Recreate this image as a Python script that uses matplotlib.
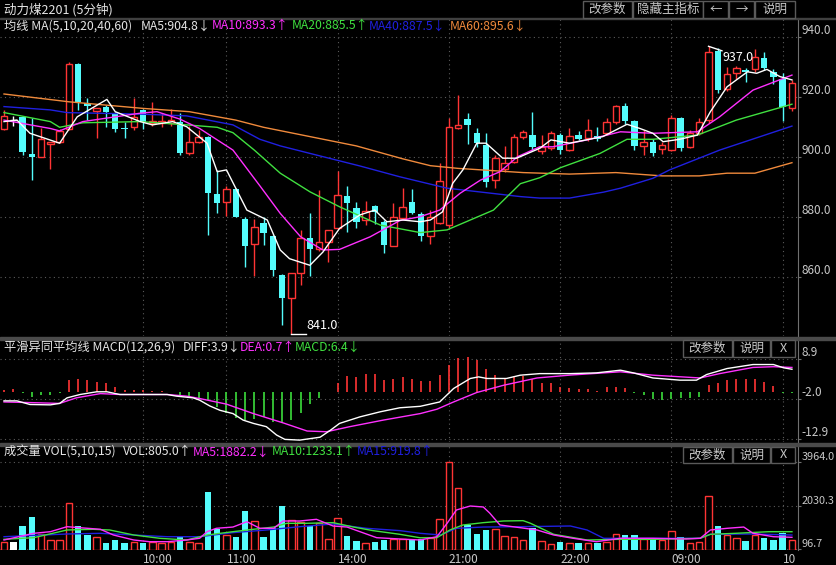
import numpy as np
import matplotlib.pyplot as plt
from matplotlib.patches import Rectangle

plt.rcParams['font.family'] = ['Noto Sans CJK SC', 'DejaVu Sans']

# ---- 5-minute candles (index 0..85) ----
opens = [909.4, 912.4, 913.4, 901.1, 900.1, 904.4, 905.1, 909.4, 931.1, 918.1,
         915.4, 916.8, 914.8, 909.6, 910.1, 915.8, 911.4, 911.3, 911.4, 911.8,
         901.3, 905.2, 906.7, 887.8, 885.1, 889.4, 879.4, 871.1, 878.1, 873.8,
         860.8, 853.0, 861.5, 873.0, 869.4, 871.8, 876.3, 887.1, 883.0, 879.1,
         883.6, 878.4, 870.3, 879.7, 885.2, 881.0, 873.8, 878.0, 877.3, 909.9,
         912.9, 908.0, 904.0, 892.4, 896.0, 898.5, 906.9, 907.4, 902.0, 903.0,
         907.4, 902.4, 907.4, 906.3, 907.1, 908.2, 911.9, 917.1, 912.1, 903.8,
         905.2, 902.6, 902.4, 913.0, 903.4, 908.2, 912.4, 935.5, 922.7, 928.2,
         929.2, 929.3, 933.1, 928.5, 926.0, 916.3]
highs = [915.8, 913.8, 913.8, 913.1, 909.8, 905.1, 909.4, 931.8, 931.4, 919.8,
         916.4, 917.4, 915.0, 911.8, 919.8, 916.0, 918.4, 914.9, 916.0, 914.8,
         910.4, 909.1, 907.0, 895.8, 890.4, 889.8, 880.0, 879.4, 880.1, 874.1,
         861.0, 861.5, 875.8, 881.4, 889.1, 875.8, 895.4, 890.4, 885.0, 885.4,
         884.0, 879.0, 884.8, 889.7, 889.4, 881.8, 882.5, 898.0, 913.0, 920.8,
         914.9, 909.8, 908.2, 900.8, 903.7, 907.8, 909.0, 915.2, 907.5, 908.9,
         908.0, 909.6, 908.7, 912.8, 910.1, 913.1, 917.5, 918.0, 912.5, 909.1,
         906.0, 905.0, 914.0, 913.5, 909.0, 913.0, 937.0, 936.5, 930.0, 930.5,
         929.8, 936.1, 935.0, 929.5, 928.1, 925.9]
lows = [909.1, 910.4, 900.8, 892.4, 900.0, 896.1, 904.8, 909.0, 915.8, 912.4,
        906.4, 910.1, 908.4, 906.4, 909.1, 909.4, 910.4, 910.2, 910.4, 900.8,
        900.8, 904.8, 874.1, 881.4, 880.4, 880.0, 863.4, 860.4, 870.8, 860.4,
        844.1, 841.0, 857.4, 860.4, 868.6, 865.0, 876.0, 875.2, 876.3, 877.4,
        877.7, 868.1, 870.3, 879.5, 881.0, 872.0, 871.0, 877.9, 876.5, 909.5,
        904.4, 903.5, 890.2, 889.7, 895.0, 898.0, 906.0, 902.4, 901.0, 902.5,
        901.1, 902.0, 905.8, 905.5, 905.5, 907.5, 911.0, 911.0, 902.4, 900.9,
        900.5, 901.0, 902.0, 902.0, 903.0, 907.5, 911.5, 921.5, 922.0, 926.0,
        925.0, 928.5, 929.0, 924.5, 912.0, 915.5]
closes = [913.8, 912.4, 901.8, 900.1, 906.1, 905.1, 908.8, 931.1, 918.4, 917.1,
          916.4, 915.1, 909.4, 909.4, 913.4, 911.8, 912.0, 912.1, 912.4, 901.5,
          905.0, 906.7, 888.1, 884.8, 889.4, 880.1, 870.4, 876.8, 874.8, 862.4,
          853.1, 861.3, 873.0, 869.4, 871.8, 875.8, 887.4, 884.9, 878.5, 882.1,
          881.8, 870.9, 880.2, 883.3, 881.3, 873.8, 880.0, 892.1, 910.2, 910.6,
          910.6, 904.7, 891.9, 899.6, 898.2, 906.7, 908.3, 903.5, 903.5, 908.1,
          902.4, 907.2, 906.1, 909.1, 906.0, 911.9, 917.1, 912.1, 903.8, 905.2,
          901.3, 904.1, 913.0, 903.0, 908.2, 911.9, 935.2, 922.4, 927.7, 929.7,
          928.5, 933.4, 929.7, 926.7, 916.9, 924.9]
volumes = [426, 426, 1126, 1514, 756, 502, 502, 2137, 1126, 725,
           649, 355, 502, 355, 426, 355, 426, 390, 426, 622,
           426, 390, 2627, 979, 725, 622, 1794, 1349, 622, 1023,
           2017, 1393, 1318, 1126, 1246, 533, 1469, 680, 458, 355,
           426, 502, 533, 533, 502, 547, 605, 1438, 3964, 2806,
           1170, 770, 948, 992, 694, 649, 502, 1023, 458, 310,
           426, 355, 355, 390, 355, 426, 756, 725, 725, 533,
           533, 502, 903, 649, 355, 410, 2463, 1126, 725, 578,
           458, 725, 578, 502, 805, 502]
macd_bar = [0.62, 0.9, -0.3, -1.4, -0.94, -0.75, -0.2, 3.19, 3.38, 3.19,
            2.73, 2.46, 1.36, 0.62, 0.44, 0.44, 0.17, 0.17, 0.05, -0.94,
            -1.21, -1.58, -2.31, -4.15, -5.71, -7.18, -7.82, -7.36, -6.9, -8.28,
            -8.55, -7.82, -5.71, -3.23, -1.67, 0.05, 2.55, 4.39, 4.11, 4.84,
            4.84, 3.19, 3.65, 4.11, 3.65, 2.92, 2.92, 4.57, 7.5, 9.16,
            9.62, 8.7, 6.22, 4.57, 3.83, 4.11, 4.39, 3.38, 2.55, 2.28,
            1.36, 1.08, 0.9, 0.72, 0.26, 1.36, 1.36, 1.08, -0.3, -0.94,
            -2.04, -2.31, -1.85, -1.67, -1.67, -1.4, 2.0, 2.28, 3.19, 3.65,
            3.38, 3.38, 2.73, 1.64, -0.3, -0.2]

# ---- moving-average lines, sampled along the drawn curves (bar index, value) ----
ma5_x = [0, 1.4, 2.8, 6, 7.9, 11.1, 12, 14.7, 16, 18.2, 19.7, 21.9, 23, 24, 26.2, 28.4,
         29.8, 30.8, 33, 34.4, 36.2, 38.4, 40, 41.3, 43, 44.9, 46, 47.3, 48.4, 49.5, 51,
         52, 53.8, 55.3, 57.8, 59, 61, 64.6, 67.2, 68.6, 70, 71.1, 72.9, 74.8, 76.2, 78,
         80.2, 81.2, 82.3, 83.7, 85]
ma5_y = [911.9, 912.4, 908, 904.7, 913.5, 919.3, 915.2, 911.9, 910.8, 911.9, 910.2, 904.7,
         895.2, 895.8, 882.4, 879.1, 869.1, 866.2, 864, 868.4, 876.3, 880.8, 882.4, 878.5,
         879.1, 878.5, 879.1, 881.8, 891.3, 895.8, 904.7, 904.7, 899.7, 899.7, 903, 905.8,
         904.7, 906.9, 911, 909.6, 908, 905.2, 906, 907.4, 915.2, 923.5, 928.5, 928, 929.3,
         926.9, 925.8]
ma10_x = [0, 5, 6, 8.5, 14.7, 16.5, 19, 21.1, 24.7, 27.6, 29.8, 32, 34.4, 36.2, 39.5, 42.7,
          44.9, 47, 49.2, 51.4, 53.5, 55.4, 57.8, 59.2, 62.9, 66.5, 70, 74.8, 77.2, 80.8, 85]
ma10_y = [912.4, 909.6, 908.8, 911.9, 914.7, 915.2, 912.7, 909.6, 902.4, 890.5, 881.3,
          873.5, 869.1, 869.3, 873.5, 878.9, 880.2, 882.4, 888, 892.4, 895.2, 900.2, 903.5,
          903.5, 905.8, 908.5, 908, 908.5, 913.5, 922.4, 927.4]
ma20_x = [0, 5, 6, 8.5, 14.7, 19.7, 23, 24.7, 27, 29.8, 33, 36.2, 40.6, 44.9, 47.8, 52.8,
          55.7, 57.8, 60, 64.3, 67.2, 70, 74.8, 79, 85]
ma20_y = [914.9, 911.9, 910, 911.5, 911.9, 910.8, 910, 908.2, 902.4, 894.7, 888.5, 883.5,
          877.4, 874.9, 875.8, 882.4, 891.2, 893.2, 896.5, 901.3, 906, 906, 907.4, 912.4,
          917.7]
ma40_x = [0, 5, 6.8, 14.7, 19.7, 24.7, 27.6, 29.8, 33, 38.4, 42.7, 47.8, 55.7, 57.8, 61,
          64.7, 66.5, 70, 71.8, 77.2, 85]
ma40_y = [916.9, 915.8, 914.9, 914.4, 913.8, 910.8, 906, 903.8, 901.3, 897.1, 893.5,
          889.7, 886.9, 886.4, 886.4, 888.4, 889.7, 893, 895.8, 902.4, 910.4]
ma60_x = [0, 7, 15, 20, 25, 28, 33, 38, 43, 46, 49, 56, 61, 66, 71, 75, 78, 81, 85]
ma60_y = [921.1, 918.5, 916.3, 915.2, 912.4, 910.0, 906.9, 903.8, 899.5, 897.2, 896.3,
          894.9, 894.4, 894.9, 893.8, 893.8, 894.7, 894.7, 898.2]

# ---- MACD lines ----
diff_x = [0, 1.4, 2.8, 5, 6, 6.8, 8.2, 10, 11.1, 12.5, 14.7, 17.6, 18.6, 20.4, 21.1, 22.2,
          23.3, 24.7, 25.8, 26.9, 28.3, 29.4, 30.3, 31.9, 34.1, 35.2, 36.2, 38.4, 40.6,
          42.7, 44.9, 47, 48.5, 50.3, 51.2, 52.1, 54.2, 55.7, 57.8, 61.1, 63.9, 66.5, 67.9,
          70, 72.9, 74.7, 75.8, 78, 80.8, 83, 84.1, 85]
diff_y = [-2.5, -2.5, -3.5, -3.6, -3.2, -1.67, -0.75, 0, 0, -0.75, -0.75, -0.75, -1.2,
          -1.67, -2.3, -3.9, -5.1, -6, -7.8, -8.7, -9.6, -11.9, -13.1, -13.3, -12.5, -10.6,
          -8.7, -6.9, -5.5, -4.4, -4.0, -2.8, 0.9, 3.66, 4.1, 3.66, 3.66, 4.57, 5.0, 5.0,
          5.2, 5.94, 5.2, 3.8, 3.2, 3.2, 4.75, 6.4, 7.5, 7.5, 6.6, 6.2]
dea_x = [0, 3.2, 6, 7.8, 10.4, 12.5, 17.6, 19.7, 21.1, 24, 26.9, 30.1, 32.7, 34.8, 37.3,
         40.9, 44.9, 46.7, 48.5, 51, 53.9, 57.5, 61.1, 66.5, 70, 75.1, 77.2, 80.8, 83, 85]
dea_y = [-2.8, -3.0, -3.2, -1.67, -0.5, -0.75, -0.75, -1.2, -1.85, -3.4, -6, -8.55, -10.8,
         -11, -9.6, -7.8, -6, -4.8, -2.8, -0.2, 1.8, 3.8, 4.6, 5.5, 4.57, 3.8, 5.0, 6.7, 6.9,
         6.7]

# ---- volume moving averages ----
vma5_x = [0, 3.2, 5, 6.8, 8.2, 10.4, 11.8, 14, 15.7, 17.6, 19.7, 21.1, 21.9, 22.9, 24.7,
          26.2, 27.6, 29.1, 30.1, 31.9, 33.7, 35.5, 37, 38.4, 40.2, 42.7, 44.9, 46.7, 47.8,
          48.8, 50.3, 51.7, 52.4, 53.5, 55.7, 57.5, 59.3, 61.4, 63.9, 66.5, 70, 73.6, 75.1,
          76.2, 78, 79.8, 80.8, 83, 85]
vma5_y = [502, 800, 872, 1095, 1050, 979, 725, 502, 426, 426, 502, 578, 872, 1023, 1080,
          1318, 1023, 1023, 1349, 1349, 1424, 1126, 1080, 872, 605, 547, 502, 649, 1246,
          1839, 2017, 1973, 1700, 1170, 1050, 948, 725, 578, 426, 578, 578, 547, 578, 948,
          1023, 1080, 800, 649, 622]
vma10_x = [0, 3.2, 6.8, 9.6, 11.4, 14, 16.8, 19.7, 21.9, 24.7, 26.9, 29.1, 30.5, 32.6,
           35.5, 37.7, 39.8, 42.7, 44.9, 46.7, 48.1, 49.5, 51.7, 53.9, 56, 56.8, 59.3, 62.9,
           66.5, 70, 75.1, 76.2, 78.9, 82.5, 85]
vma10_y = [533, 605, 948, 979, 948, 725, 578, 502, 725, 872, 979, 1080, 1246, 1246, 1275,
           1080, 920, 756, 600, 605, 948, 1170, 1275, 1349, 1364, 1246, 756, 502, 533, 533,
           578, 756, 800, 872, 872]
vma15_x = [0, 6.8, 10.4, 14, 17.6, 21.1, 24.7, 28.3, 31.9, 35.5, 39.1, 42.7, 44.9, 47.1,
           48.8, 51.7, 55.7, 61.1, 62.9, 64.7, 70, 75.1, 76.2, 80.8, 85]
vma15_y = [649, 770, 800, 725, 649, 649, 830, 948, 1095, 1216, 1023, 920, 800, 725, 1023,
           1080, 1095, 1126, 948, 578, 578, 578, 756, 770, 725]

time_idx = [15, 24, 36, 48, 60, 72, 84]
time_labels = ['10:00', '11:00', '14:00', '21:00', '22:00', '09:00', '10']

RED = '#ff3434'
CYAN = '#54fcfc'
GREEN_BAR = '#3cdc3c'
MAGENTA = '#ff30ff'
GREEN = '#40e040'
BLUE = '#2020e0'
ORANGE = '#f08a3c'
TXT = '#c8c8c8'
GRID = '#5a5a5a'

W, H = 836, 565
fig = plt.figure(figsize=(W / 100, H / 100), dpi=100, facecolor='black')
x = np.arange(len(closes))
o = np.array(opens); c = np.array(closes); hi = np.array(highs); lo = np.array(lows)
up = c > o
down = c < o
flat = c == o


def panel(top, bottom, ylim, ticks, labels, lsize=8.5):
    ax = fig.add_axes([0, 1 - bottom / H, 798 / W, (bottom - top) / H])
    ax.set_facecolor('black')
    ax.set_xlim(-4 / 9.27, 794 / 9.27)
    ax.set_ylim(*ylim)
    for s in ['left', 'top', 'bottom']:
        ax.spines[s].set_visible(False)
    ax.spines['right'].set_color('#707070')
    ax.yaxis.tick_right()
    ax.set_yticks(ticks)
    ax.set_yticklabels(labels)
    ax.tick_params(axis='y', colors='#707070', labelcolor=TXT, labelsize=lsize,
                   length=2, pad=0.5)
    for t in ax.get_yticklabels():
        t.set_verticalalignment('bottom')
    ax.set_xticks([])
    for i in time_idx:
        ax.axvline(i, color=GRID, lw=0.8, ls=(0, (1, 3)), zorder=0)
    for v in ticks:
        ax.axhline(v, color=GRID, lw=0.8, ls=(0, (1, 3)), zorder=0)
    return ax


# ---- main price panel ----
ax = panel(18, 336, (840.43, 946.43), [940, 920, 900, 880, 860],
           ['940.0', '920.0', '900.0', '880.0', '860.0'])
bw = 0.7
ax.vlines(x[down], lo[down], hi[down], color=CYAN, lw=1, zorder=2)
ax.bar(x[down], o[down] - c[down], bottom=c[down], width=bw, color=CYAN, zorder=3)
ax.vlines(x[up], lo[up], o[up], color=RED, lw=1, zorder=2)
ax.vlines(x[up], c[up], hi[up], color=RED, lw=1, zorder=2)
ax.bar(x[up], c[up] - o[up], bottom=o[up], width=bw, facecolor='black',
       edgecolor=RED, lw=1, zorder=3)
ax.vlines(x[flat], lo[flat], hi[flat], color='white', lw=1, zorder=2)
ax.hlines(c[flat], x[flat] - bw / 2, x[flat] + bw / 2, color='white', lw=1, zorder=3)

ax.plot(ma60_x, ma60_y, color=ORANGE, lw=1, zorder=4)
ax.plot(ma40_x, ma40_y, color=BLUE, lw=1, zorder=4)
ax.plot(ma20_x, ma20_y, color=GREEN, lw=1, zorder=4)
ax.plot(ma10_x, ma10_y, color=MAGENTA, lw=1, zorder=4)
ax.plot(ma5_x, ma5_y, color='white', lw=1, zorder=5)

imax = int(np.argmax(hi)); imin = int(np.argmin(lo))
ax.plot([imax, imax + 1.45], [hi[imax], hi[imax] - 1.5], color='white', lw=1, zorder=6)
ax.text(imax + 1.55, hi[imax] - 1.5, f'{hi[imax]:.1f}', color='white', fontsize=9,
        ha='left', va='top', zorder=6)
ax.plot([imin, imin + 1.6], [lo[imin], lo[imin]], color='white', lw=1, zorder=6)
ax.text(imin + 1.65, lo[imin] + 0.8, f'{lo[imin]:.1f}', color='white', fontsize=9,
        ha='left', va='bottom', zorder=6)

# ---- MACD panel ----
axm = panel(340, 442, (-13.82, 14.25), [8.9, -2.0, -12.9], ['8.9', '-2.0', '-12.9'])
mb = np.array(macd_bar)
axm.vlines(x, 0, mb, colors=[RED if v > 0 else GREEN_BAR for v in mb], lw=1.2)
axm.plot(dea_x, dea_y, color=MAGENTA, lw=1)
axm.plot(diff_x, diff_y, color='white', lw=1)

# ---- volume panel ----
vb = 56.6
axv = panel(445, 550, (vb, 4735), [3964.0, 2030.3, 96.7], ['3964.0', '2030.3', '96.7'],
            lsize=7.8)
vol = np.array(volumes, dtype=float)
axv.bar(x[down], vol[down] - vb, bottom=vb, width=bw, color=CYAN)
axv.bar(x[up], vol[up] - vb, bottom=vb, width=bw, facecolor='black', edgecolor=RED, lw=1)
axv.bar(x[flat], vol[flat] - vb, bottom=vb, width=bw, color='white')
axv.plot(vma15_x, vma15_y, color=BLUE, lw=1)
axv.plot(vma10_x, vma10_y, color=GREEN, lw=1)
axv.plot(vma5_x, vma5_y, color=MAGENTA, lw=1)
axv.set_xticks(time_idx)
axv.set_xticklabels(time_labels, ha='left')
axv.tick_params(axis='x', length=0, pad=2, labelcolor=TXT, labelsize=8.5)

# ---- overlay: header, legends, separators, buttons ----
ui = fig.add_axes([0, 0, 1, 1], zorder=10)
ui.set_xlim(0, W); ui.set_ylim(H, 0); ui.axis('off'); ui.patch.set_visible(False)
ui.add_patch(Rectangle((0, 17.5), W, 1, color='#404040'))
ui.add_patch(Rectangle((0, 336.5), W, 3, color='#4a4a4a'))
ui.add_patch(Rectangle((0, 442.5), W, 3, color='#4a4a4a'))
ui.text(4, 10, '动力煤2201 (5分钟)', color='#e6e6e6', fontsize=9, va='center')


def legend(y, items):
    for px, s, col in items:
        ui.text(px, y, s, color=col, fontsize=8.8, va='center')


legend(26, [(4, '均线 MA(5,10,20,40,60)', '#e6e6e6'), (141, 'MA5:904.8↓', '#e6e6e6'),
            (212, 'MA10:893.3↑', MAGENTA), (292, 'MA20:885.5↑', GREEN),
            (369, 'MA40:887.5↓', BLUE), (450, 'MA60:895.6↓', ORANGE)])
legend(347, [(4, '平滑异同平均线 MACD(12,26,9)', '#e6e6e6'), (183, 'DIFF:3.9↓', '#e6e6e6'),
             (240, 'DEA:0.7↑', MAGENTA), (295, 'MACD:6.4↓', GREEN)])
legend(452, [(4, '成交量 VOL(5,10,15)', '#e6e6e6'), (123, 'VOL:805.0↑', '#e6e6e6'),
             (193, 'MA5:1882.2↓', MAGENTA), (272, 'MA10:1233.1↑', GREEN),
             (357, 'MA15:919.8↑', BLUE)])


def buttons(y0, y1, spans):
    for a, b, s in spans:
        ui.add_patch(Rectangle((a, y0), b - a, y1 - y0, facecolor='black',
                               edgecolor='#5a5a5a', lw=1))
        ui.text((a + b) / 2, (y0 + y1) / 2, s, color=TXT, fontsize=9,
                ha='center', va='center')


buttons(0.5, 17.5, [(583, 632, '改参数'), (633, 703, '隐藏主指标'), (703, 728, '←'),
                    (729, 754, '→'), (755, 795, '说明')])
buttons(340, 357, [(683, 732, '改参数'), (733, 770, '说明'), (771, 795, 'X')])
buttons(447, 463, [(683, 732, '改参数'), (733, 770, '说明'), (771, 795, 'X')])

fig.savefig('out.png', dpi=100, facecolor='black')
